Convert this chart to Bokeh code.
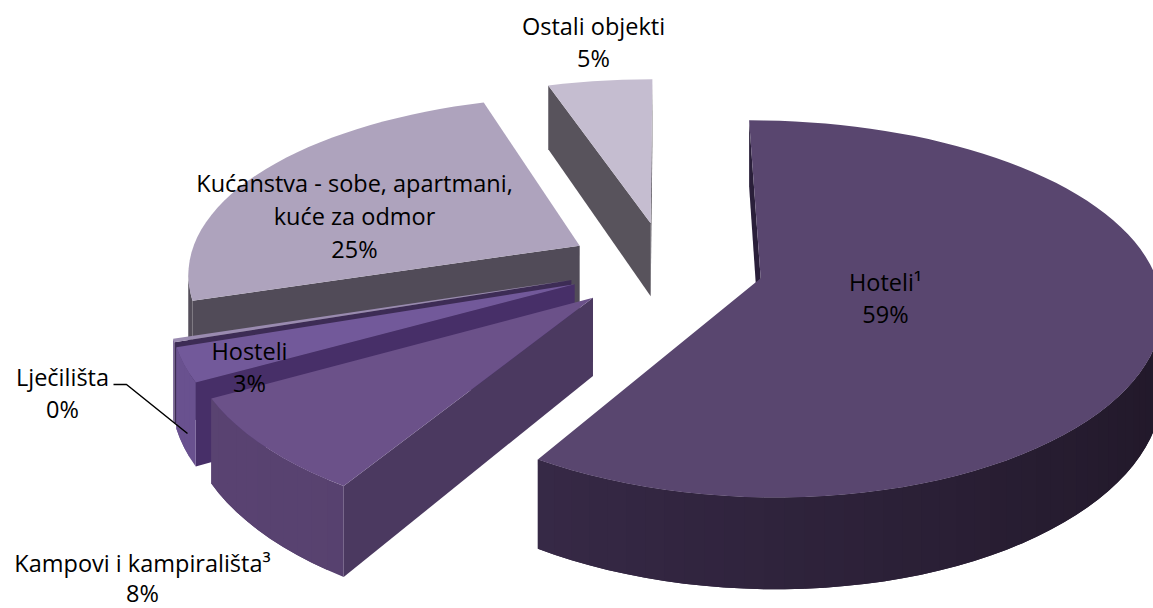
import math
from bokeh.plotting import figure
from bokeh.embed import file_html
from bokeh.resources import INLINE
from bokeh.core.properties import value

# ---- chart values ----
CATEGORIES = ["Hoteli¹", "Kampovi i kampirališta³", "Hosteli", "Lječilišta",
              "Kućanstva - sobe, apartmani, kuće za odmor", "Ostali objekti"]
SHARES = [58.8, 8.1, 2.9, 0.3, 24.9, 5.0]
PERCENT_LABELS = ["59%", "8%", "3%", "0%", "25%", "5%"]

# ---- colours: top, arc lit, arc shaded, radial wall ----
COLOURS = [
    ("#59466f", "#3d2e4f", "#211829", "#2a1f3a"),
    ("#6b5189", "#5a4372", "#4f3c66", "#4b3960"),
    ("#72599a", "#6a5290", "#5a4480", "#472f68"),
    ("#9a8bb0", "#7d6a9a", "#6b5a88", "#3d2c55"),
    ("#aea3bd", "#544e5a", "#4f4955", "#514b58"),
    ("#c5bdd0", "#5a555e", "#55505a", "#58535c"),
]

# ---- projection of the tilted pie ----
CX, CY = 665.0, 265.3
AX, BY = 392.0, 179.6
KX, KY = 0.137, 0.161
THICK = 76.0
EXPLODE = 0.25
DRAW_ORDER = [5, 4, 3, 2, 1, 0]


def project(X, Y, drop=0.0):
    sx = 1.0 / (1.0 + KX * Y)
    sy = 1.0 / (1.0 + KY * Y)
    return CX + AX * X * sx, CY - BY * Y * sy + drop * sy


total = sum(SHARES)
spans, start = [], 0.0
for s in SHARES:
    spans.append((start, start + s / total * 360.0))
    start += s / total * 360.0

xs, ys, fills = [], [], []


def add(poly, colour):
    xs.append([q[0] for q in poly])
    ys.append([q[1] for q in poly])
    fills.append(colour)


def mix(a, b, t):
    ca = [int(a[i:i + 2], 16) for i in (1, 3, 5)]
    cb = [int(b[i:i + 2], 16) for i in (1, 3, 5)]
    return "#%02x%02x%02x" % tuple(round(u + (v - u) * t) for u, v in zip(ca, cb))


def wall(points, colour):
    """Extrude a run of top-face points downward when the run faces the viewer."""
    a, b = project(*points[0]), project(*points[1])
    c, d = project(*points[1], THICK), project(*points[0], THICK)
    poly = [a, b, c, d]
    area = sum(poly[i][0] * poly[(i + 1) % 4][1] - poly[(i + 1) % 4][0] * poly[i][1] for i in range(4))
    if area < 0:
        add([project(*q) for q in points] + [project(*q, THICK) for q in reversed(points)], colour)


for i in DRAW_ORDER:
    t0, t1 = spans[i]
    top, hi, lo, radial = COLOURS[i]
    mid = math.radians((t0 + t1) / 2)
    ox, oy = EXPLODE * math.sin(mid), EXPLODE * math.cos(mid)
    n = max(2, int((t1 - t0) / 2.5))
    rim = []
    for k in range(n + 1):
        th = math.radians(t0 + (t1 - t0) * k / n)
        rim.append((ox + math.sin(th), oy + math.cos(th), t0 + (t1 - t0) * k / n))
    apex = (ox, oy)
    wall([apex, rim[0][:2]], radial)
    wall([rim[-1][:2], apex], radial)
    for k in range(n):
        normal = math.radians((rim[k][2] + rim[k + 1][2]) / 2)
        t = (1 - math.sin(normal)) / 2
        # each strip runs under the next one, so that no seam shows
        wall([r[:2] for r in rim[k:k + 3]], mix(lo, hi, t))
    add([project(*apex)] + [project(r[0], r[1]) for r in rim], top)

W, H = 1153, 608
p = figure(width=W, height=H, x_range=(0, W), y_range=(H, 0),
           output_backend="svg", toolbar_location=None, min_border=0,
           outline_line_color=None, background_fill_color="white")
p.axis.visible = False
p.grid.visible = False
p.patches(xs, ys, fill_color=fills, line_color=None)

# leader of the smallest slice
p.line(x=[113, 126, 187], y=[384, 384, 433], line_color="black", line_width=1.5)

# ---- label layout (x, first line y, line step) ----
LABEL_LAYOUT = {
    0: (885, 281, 32), 1: (142, 562, 30), 2: (249, 350, 32),
    3: (62, 376, 32), 4: (354, 182, 33), 5: (593, 25, 32),
}
WRAPPED = {4: ["Kućanstva - sobe, apartmani,", "kuće za odmor"]}
tx, ty, tt = [], [], []
for i, (lx, ly, step) in LABEL_LAYOUT.items():
    lines = WRAPPED.get(i, [CATEGORIES[i]]) + [PERCENT_LABELS[i]]
    for j, line in enumerate(lines):
        tx.append(lx)
        ty.append(ly + j * step)
        tt.append(line)
p.text(tx, ty, text=tt, text_align="center", text_baseline="middle",
       text_font=value("Open Sans"), text_font_size="23.5px", text_color="#000000")

open("out.html", "w").write(file_html(p, INLINE))
